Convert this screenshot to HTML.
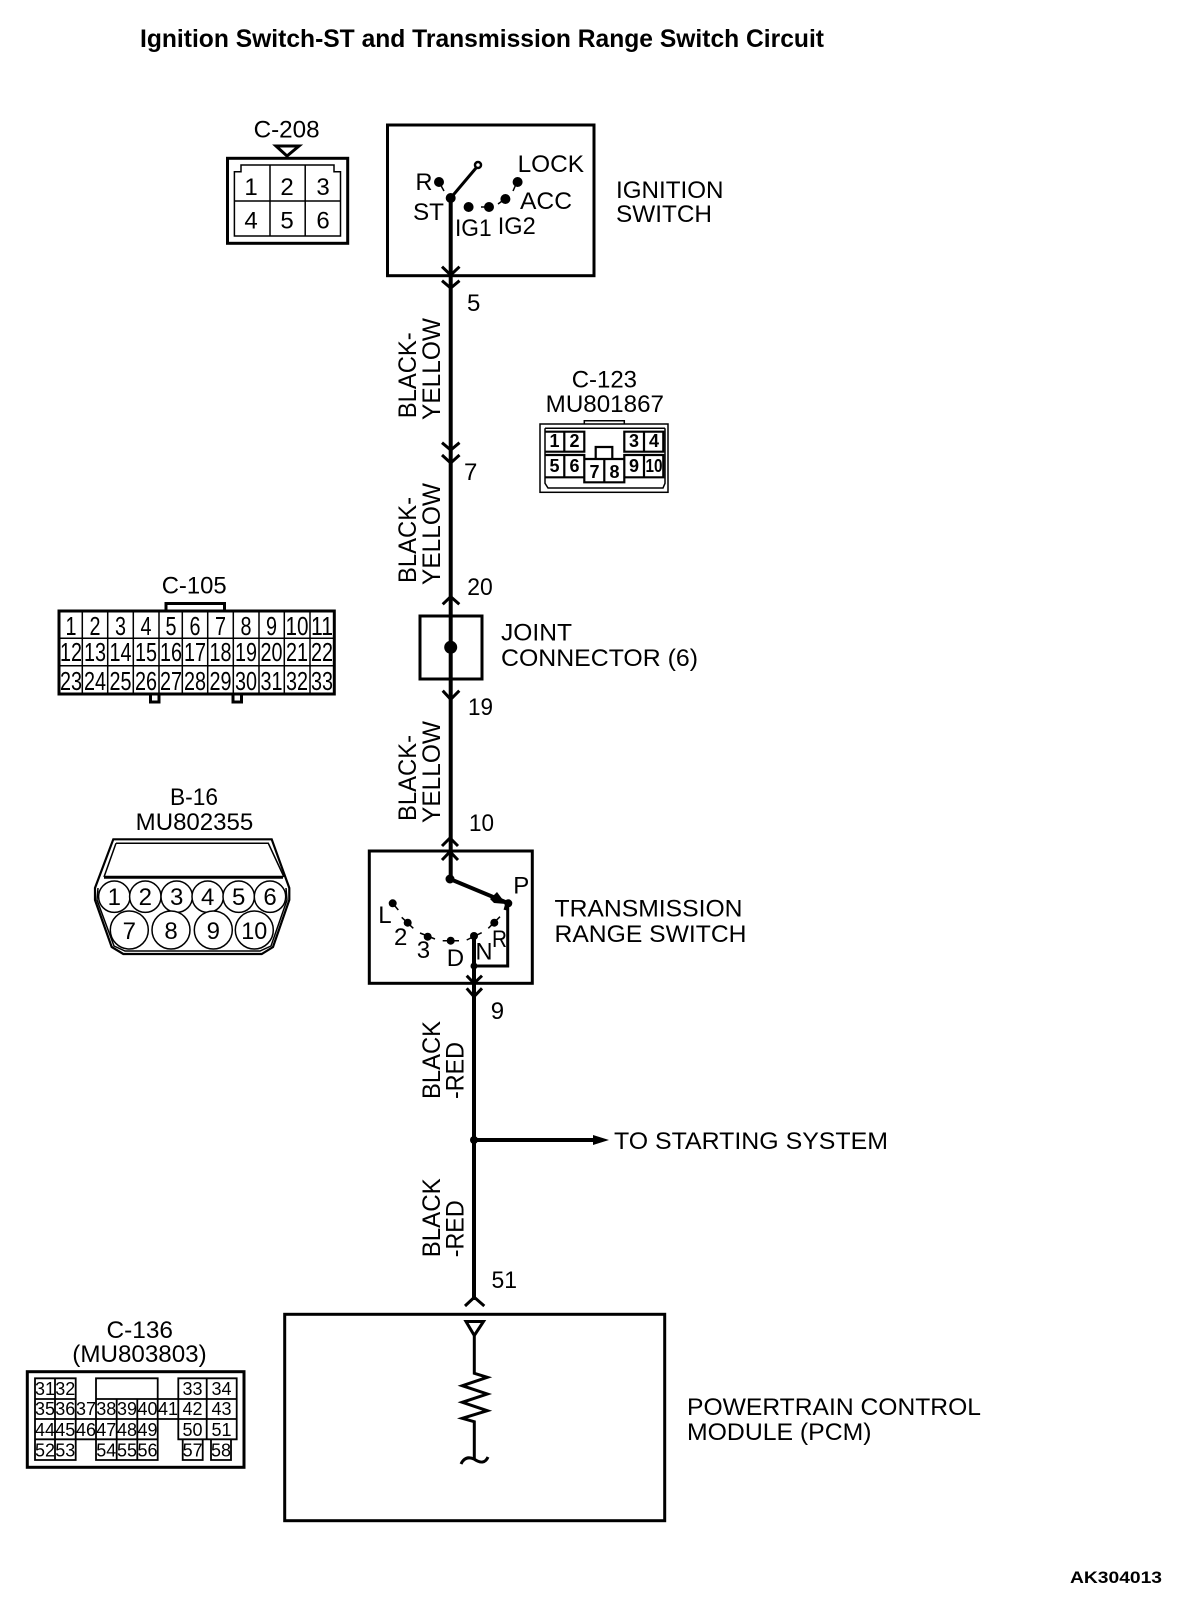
<!DOCTYPE html>
<html><head><meta charset="utf-8"><style>
html,body{margin:0;padding:0;background:#fff;width:1200px;height:1602px;overflow:hidden}
svg{display:block}
text{font-family:"Liberation Sans",sans-serif;font-size:24px;fill:#000}
.s{fill:none;stroke:#000;stroke-width:3}
.w{fill:none;stroke:#000;stroke-width:4}
.t{fill:none;stroke:#000;stroke-width:1.5}
.c text,text.c{text-anchor:middle}
.b text{font-weight:bold;font-size:18px;text-anchor:middle}
.n text{font-size:18px;text-anchor:middle}
.h text{font-size:26px;text-anchor:middle}
.v{font-size:25px}
</style></head><body>
<svg width="1200" height="1602" viewBox="0 0 1200 1602" xmlns="http://www.w3.org/2000/svg">
<rect width="1200" height="1602" fill="#fff"/>
<text x="140" y="47" style="font-size:25px;font-weight:bold" textLength="684" lengthAdjust="spacingAndGlyphs">Ignition Switch-ST and Transmission Range Switch Circuit</text>

<!-- C-208 -->
<text x="253.6" y="137.7" textLength="66" lengthAdjust="spacingAndGlyphs">C-208</text>
<path class="s" d="M276,146H299L287,156Z"/>
<rect class="s" x="227.5" y="158.3" width="120.2" height="85"/>
<path class="t" d="M234.4,236V171.7H241V165H334V171.7H340.5V236ZM234.4,201H340.5M270,165V236M305.2,165V236"/>
<g class="c"><text x="251" y="195">1</text><text x="287" y="195">2</text><text x="323" y="195">3</text><text x="251" y="228.3">4</text><text x="287" y="228.3">5</text><text x="323" y="228.3">6</text></g>

<!-- Ignition switch -->
<rect class="s" x="387.5" y="125" width="206.5" height="150.7"/>
<path class="w" d="M450.7,198V879"/>
<path class="s" d="M450.7,198L476,168"/>
<circle cx="478" cy="165" r="3" fill="#fff" stroke="#000" stroke-width="2.5"/>
<circle cx="450.7" cy="198" r="5"/>
<circle cx="439" cy="182" r="5"/><path class="t" stroke-width="2" d="M439,182L444,191"/>
<circle cx="468.6" cy="207" r="5"/>
<circle cx="489" cy="207" r="5"/><path class="t" d="M481,207H489"/>
<circle cx="505.4" cy="199" r="5"/><path class="t" d="M498,204L505,199"/>
<circle cx="517.6" cy="182" r="5"/><path class="t" d="M513,191L517,182"/>
<text x="517.6" y="172" textLength="66.5" lengthAdjust="spacingAndGlyphs">LOCK</text>
<text x="415.5" y="190" textLength="17" lengthAdjust="spacingAndGlyphs">R</text>
<text x="413" y="220" textLength="31" lengthAdjust="spacingAndGlyphs">ST</text>
<text x="455" y="236" textLength="36.6" lengthAdjust="spacingAndGlyphs">IG1</text>
<text x="497.7" y="234" textLength="38" lengthAdjust="spacingAndGlyphs">IG2</text>
<text x="520" y="209" textLength="52" lengthAdjust="spacingAndGlyphs">ACC</text>
<text x="616" y="198" textLength="107.5" lengthAdjust="spacingAndGlyphs">IGNITION</text>
<text x="616" y="222" textLength="96" lengthAdjust="spacingAndGlyphs">SWITCH</text>

<!-- chevrons main upper wire -->
<path class="s" d="M442,266.7L450.7,275L459.5,266.7M442,280.7L450.7,288L459.5,280.7"/>
<path class="s" d="M442,442.7L450.7,450L459.5,442.7M442,455L450.7,463L459.5,455"/>
<path class="s" d="M442.7,604.3L450.7,596.7L459.3,604.3"/>
<path class="s" d="M442.7,690.7L450.7,699.3L459.3,690.7"/>
<path class="s" d="M442,846L450,838L458,846M442,860L450,851.7L458,860"/>

<text x="467" y="311">5</text>
<text x="464" y="480">7</text>
<text x="467.3" y="595" textLength="25.5" lengthAdjust="spacingAndGlyphs">20</text>
<text x="468" y="715" textLength="25" lengthAdjust="spacingAndGlyphs">19</text>
<text x="469" y="831" textLength="25" lengthAdjust="spacingAndGlyphs">10</text>
<text x="490.7" y="1019">9</text>
<text x="491.5" y="1288" textLength="25.5" lengthAdjust="spacingAndGlyphs">51</text>

<!-- wire labels -->
<text class="v" transform="translate(416,418.3) rotate(-90)" textLength="86" lengthAdjust="spacingAndGlyphs">BLACK-</text>
<text class="v" transform="translate(440,420) rotate(-90)" textLength="102" lengthAdjust="spacingAndGlyphs">YELLOW</text>
<text class="v" transform="translate(416,583) rotate(-90)" textLength="86" lengthAdjust="spacingAndGlyphs">BLACK-</text>
<text class="v" transform="translate(440,585) rotate(-90)" textLength="102" lengthAdjust="spacingAndGlyphs">YELLOW</text>
<text class="v" transform="translate(416,821) rotate(-90)" textLength="86" lengthAdjust="spacingAndGlyphs">BLACK-</text>
<text class="v" transform="translate(440,823) rotate(-90)" textLength="102" lengthAdjust="spacingAndGlyphs">YELLOW</text>
<text class="v" transform="translate(440,1099) rotate(-90)" textLength="78" lengthAdjust="spacingAndGlyphs">BLACK</text>
<text class="v" transform="translate(463.3,1099) rotate(-90)" textLength="57" lengthAdjust="spacingAndGlyphs">-RED</text>
<text class="v" transform="translate(440,1257.3) rotate(-90)" textLength="79" lengthAdjust="spacingAndGlyphs">BLACK</text>
<text class="v" transform="translate(463.3,1257.3) rotate(-90)" textLength="57" lengthAdjust="spacingAndGlyphs">-RED</text>

<!-- C-123 -->
<text x="571.7" y="387.3" textLength="65.3" lengthAdjust="spacingAndGlyphs">C-123</text>
<text x="545.7" y="412" textLength="118.3" lengthAdjust="spacingAndGlyphs">MU801867</text>
<rect x="540" y="424" width="128" height="68.3" fill="none" stroke="#000" stroke-width="1.5"/>
<path class="t" d="M584.3,424V420.7H624.3V424M545,428.3H665M545,428.3V483.3L548,488H663L665,483.3V428.3"/>
<path fill="none" stroke="#000" stroke-width="2.2" d="M545,431.7H584.3V451.7H545M564.3,431.7V451.7M545,455H584.3V477.3H545M564.3,455V477.3M584.3,459H624.3V482.3H584.3ZM604.3,459V482.3M624.3,431.7H663.3V451.7H624.3ZM644,431.7V451.7M624.3,455H663.3V477.3H624.3ZM644,455V477.3M595.7,459V447H612.3V459"/>
<g class="b">
<text x="554.5" y="447">1</text><text x="574.5" y="447">2</text><text x="634" y="447">3</text><text x="654" y="447">4</text>
<text x="554.5" y="472">5</text><text x="574.5" y="472">6</text><text x="594.5" y="478">7</text><text x="614.5" y="478">8</text><text x="634" y="472">9</text><text x="654" y="472" textLength="17" lengthAdjust="spacingAndGlyphs">10</text>
</g>

<!-- C-105 -->
<text x="161.7" y="593.3" textLength="65" lengthAdjust="spacingAndGlyphs">C-105</text>
<path class="s" d="M166,610V603.5H224.5V610"/>
<rect class="s" x="59" y="611" width="275.3" height="83"/>
<path class="t" stroke-width="2" d="M59,638.3H334M59,665.7H334M82.3,611V694M107.7,611V694M133.3,611V694M159,611V694M182.3,611V694M207.7,611V694M233.3,611V694M259,611V694M284.3,611V694M310,611V694"/>
<rect class="s" x="150.5" y="694" width="8.5" height="8"/><rect class="s" x="233" y="694" width="8.5" height="8"/>
<g class="h">
<text x="71" y="635" textLength="11" lengthAdjust="spacingAndGlyphs">1</text><text x="95" y="635" textLength="11" lengthAdjust="spacingAndGlyphs">2</text><text x="120.5" y="635" textLength="11" lengthAdjust="spacingAndGlyphs">3</text><text x="146" y="635" textLength="11" lengthAdjust="spacingAndGlyphs">4</text><text x="171" y="635" textLength="11" lengthAdjust="spacingAndGlyphs">5</text><text x="195" y="635" textLength="11" lengthAdjust="spacingAndGlyphs">6</text><text x="220.5" y="635" textLength="11" lengthAdjust="spacingAndGlyphs">7</text><text x="246" y="635" textLength="11" lengthAdjust="spacingAndGlyphs">8</text><text x="271.5" y="635" textLength="11" lengthAdjust="spacingAndGlyphs">9</text><text x="297" y="635" textLength="23" lengthAdjust="spacingAndGlyphs">10</text><text x="322" y="635" textLength="22" lengthAdjust="spacingAndGlyphs">11</text>
<text x="71" y="661" textLength="22" lengthAdjust="spacingAndGlyphs">12</text><text x="95" y="661" textLength="22" lengthAdjust="spacingAndGlyphs">13</text><text x="120.5" y="661" textLength="22" lengthAdjust="spacingAndGlyphs">14</text><text x="146" y="661" textLength="22" lengthAdjust="spacingAndGlyphs">15</text><text x="171" y="661" textLength="22" lengthAdjust="spacingAndGlyphs">16</text><text x="195" y="661" textLength="22" lengthAdjust="spacingAndGlyphs">17</text><text x="220.5" y="661" textLength="22" lengthAdjust="spacingAndGlyphs">18</text><text x="246" y="661" textLength="22" lengthAdjust="spacingAndGlyphs">19</text><text x="271.5" y="661" textLength="22" lengthAdjust="spacingAndGlyphs">20</text><text x="297" y="661" textLength="22" lengthAdjust="spacingAndGlyphs">21</text><text x="322" y="661" textLength="22" lengthAdjust="spacingAndGlyphs">22</text>
<text x="71" y="690" textLength="22" lengthAdjust="spacingAndGlyphs">23</text><text x="95" y="690" textLength="22" lengthAdjust="spacingAndGlyphs">24</text><text x="120.5" y="690" textLength="22" lengthAdjust="spacingAndGlyphs">25</text><text x="146" y="690" textLength="22" lengthAdjust="spacingAndGlyphs">26</text><text x="171" y="690" textLength="22" lengthAdjust="spacingAndGlyphs">27</text><text x="195" y="690" textLength="22" lengthAdjust="spacingAndGlyphs">28</text><text x="220.5" y="690" textLength="22" lengthAdjust="spacingAndGlyphs">29</text><text x="246" y="690" textLength="22" lengthAdjust="spacingAndGlyphs">30</text><text x="271.5" y="690" textLength="22" lengthAdjust="spacingAndGlyphs">31</text><text x="297" y="690" textLength="22" lengthAdjust="spacingAndGlyphs">32</text><text x="322" y="690" textLength="22" lengthAdjust="spacingAndGlyphs">33</text>
</g>

<!-- Joint -->
<rect class="s" x="420" y="616" width="62" height="63"/>
<circle cx="450.7" cy="647.3" r="6.5"/>
<text x="501" y="640.5" textLength="71" lengthAdjust="spacingAndGlyphs">JOINT</text>
<text x="501" y="666" textLength="197" lengthAdjust="spacingAndGlyphs">CONNECTOR (6)</text>

<!-- B-16 -->
<text x="170" y="805" textLength="48" lengthAdjust="spacingAndGlyphs">B-16</text>
<text x="135.7" y="830" textLength="117.6" lengthAdjust="spacingAndGlyphs">MU802355</text>
<path fill="none" stroke="#000" stroke-width="2.2" d="M113.3,839.3H271.7L289.3,888V900L273,947L261.7,954H123.3L111.7,947L95,900V888Z"/>
<path fill="none" stroke="#000" stroke-width="1.5" d="M116,843.3H268.3L284,877M116,843.3L104,877M98,888L97,900L114,946L125,951H260L271,946L287,900L286,888"/>
<path fill="none" stroke="#000" stroke-width="3" d="M104,877.3H283"/>
<g fill="#fff" stroke="#000" stroke-width="1.5">
<circle cx="114.3" cy="896.7" r="15.7"/><circle cx="145.3" cy="896.7" r="15.7"/><circle cx="176.7" cy="896.7" r="15.7"/><circle cx="207.7" cy="896.7" r="15.7"/><circle cx="238.7" cy="896.7" r="15.7"/><circle cx="270" cy="896.7" r="15.7"/>
<circle cx="129.3" cy="930" r="19"/><circle cx="171" cy="930" r="19"/><circle cx="213.3" cy="930" r="19"/><circle cx="254.3" cy="930" r="19"/>
</g>
<g class="c">
<text x="114.3" y="905">1</text><text x="145.3" y="905">2</text><text x="176.7" y="905">3</text><text x="207.7" y="905">4</text><text x="238.7" y="905">5</text><text x="270" y="905">6</text>
<text x="129.3" y="939">7</text><text x="171" y="939">8</text><text x="213.3" y="939">9</text><text x="254.3" y="939" textLength="26" lengthAdjust="spacingAndGlyphs">10</text>
</g>

<!-- Transmission switch -->
<rect class="s" x="369.3" y="851" width="163" height="132.3"/>
<path class="w" stroke-width="3" d="M450,879L508.3,903.3"/>
<circle cx="450" cy="879" r="4.5"/>
<circle cx="508.3" cy="903.3" r="4"/>
<path d="M490,899L497,892L506,904L494,903Z"/>
<path class="s" d="M507.7,903V966H474M505,910L507,903"/>
<path class="w" d="M474,936V1300"/>
<path class="s" stroke-width="2.5" d="M466.7,975.7L474,983.3L482,975.7M466.7,988.3L474,996.7L482,988.3"/>
<circle cx="474" cy="966" r="3.5"/>
<circle cx="392.7" cy="903.3" r="4"/><path class="t" stroke-width="2" d="M392.7,903.3L398.3,910"/>
<circle cx="407.7" cy="922.7" r="4"/><path class="t" stroke-width="2" d="M401.7,917.3L413.3,928.3"/>
<circle cx="427.7" cy="936.7" r="4"/><path class="t" stroke-width="2" d="M420,933L435,939"/>
<circle cx="450.7" cy="940.7" r="4"/><path class="t" stroke-width="2" d="M442.7,940.7H459"/>
<circle cx="474" cy="936" r="4"/><path class="t" stroke-width="2" d="M466.7,940L481.7,932.7"/>
<circle cx="494.3" cy="922.7" r="4"/><path class="t" stroke-width="2" d="M488.3,928.3L500,916.7"/>
<text x="513.3" y="893.7">P</text><text x="378.3" y="923">L</text><text x="394" y="945">2</text><text x="416.7" y="958">3</text><text x="446.7" y="966">D</text><text x="475.5" y="959.5" textLength="17" lengthAdjust="spacingAndGlyphs">N</text><text x="492" y="947" textLength="15" lengthAdjust="spacingAndGlyphs">R</text>
<text x="554.5" y="916.5" textLength="188" lengthAdjust="spacingAndGlyphs">TRANSMISSION</text>
<text x="554.5" y="942" textLength="192" lengthAdjust="spacingAndGlyphs">RANGE SWITCH</text>

<!-- branch -->
<circle cx="474" cy="1140" r="4"/>
<path class="w" d="M474,1140H596"/>
<path d="M593,1135L609,1140L593,1145Z"/>
<text x="614" y="1149" textLength="274" lengthAdjust="spacingAndGlyphs">TO STARTING SYSTEM</text>

<!-- PCM -->
<path class="s" d="M465,1306L474.3,1297.3L484.3,1306"/>
<rect class="s" x="284.7" y="1314.3" width="380" height="206.4"/>
<path class="s" d="M466,1321.5H483.5L474.3,1335.5Z"/>
<path class="s" d="M474.3,1336V1373.3L487.3,1377.3L462.3,1385.7L487.3,1394L462.3,1402.3L487.3,1410.7L462.3,1418.3L474.3,1421.7V1460"/>
<path class="s" d="M461,1464Q465,1455 474,1459Q484,1466 488,1457"/>
<text x="687" y="1415" textLength="294" lengthAdjust="spacingAndGlyphs">POWERTRAIN CONTROL</text>
<text x="687" y="1440" textLength="184.5" lengthAdjust="spacingAndGlyphs">MODULE (PCM)</text>

<!-- C-136 -->
<text x="106.5" y="1338" textLength="66.5" lengthAdjust="spacingAndGlyphs">C-136</text>
<text x="72.3" y="1362" textLength="134.4" lengthAdjust="spacingAndGlyphs">(MU803803)</text>
<rect class="s" x="27.3" y="1371.7" width="216.7" height="95.6"/>
<path fill="none" stroke="#000" stroke-width="1.8" d="M35,1378.3H75.7V1399H35ZM55,1378.3V1460M35,1399V1460H75.7V1399M35,1419H178.3M35,1439.3H157.7M96,1378.3V1460H157.7V1378.3H96ZM75.7,1399V1439.3M96,1399H178.3V1419M116.7,1399V1460M137.3,1399V1460M157.7,1399V1439.3M178.3,1378.3H236.7V1439.3H178.3ZM206.7,1378.3V1439.3M178.3,1399H236.7M178.3,1419H236.7M182.7,1439.3V1460H202.7V1439.3M211,1439.3V1460H231V1439.3"/>
<g class="n">
<text x="45" y="1395">31</text><text x="65.3" y="1395">32</text><text x="192.5" y="1395">33</text><text x="221.5" y="1395">34</text>
<text x="45" y="1415">35</text><text x="65.3" y="1415">36</text><text x="86" y="1415">37</text><text x="106.3" y="1415">38</text><text x="127" y="1415">39</text><text x="147.5" y="1415">40</text><text x="168" y="1415">41</text><text x="192.5" y="1415">42</text><text x="221.5" y="1415">43</text>
<text x="45" y="1436">44</text><text x="65.3" y="1436">45</text><text x="86" y="1436">46</text><text x="106.3" y="1436">47</text><text x="127" y="1436">48</text><text x="147.5" y="1436">49</text><text x="192.5" y="1436">50</text><text x="221.5" y="1436">51</text>
<text x="45" y="1456.7">52</text><text x="65.3" y="1456.7">53</text><text x="106.3" y="1456.7">54</text><text x="127" y="1456.7">55</text><text x="147.5" y="1456.7">56</text><text x="192.7" y="1456.7">57</text><text x="221" y="1456.7">58</text>
</g>

<text x="1070" y="1583" style="font-size:17px;font-weight:bold" textLength="92" lengthAdjust="spacingAndGlyphs">AK304013</text>
</svg>
</body></html>
